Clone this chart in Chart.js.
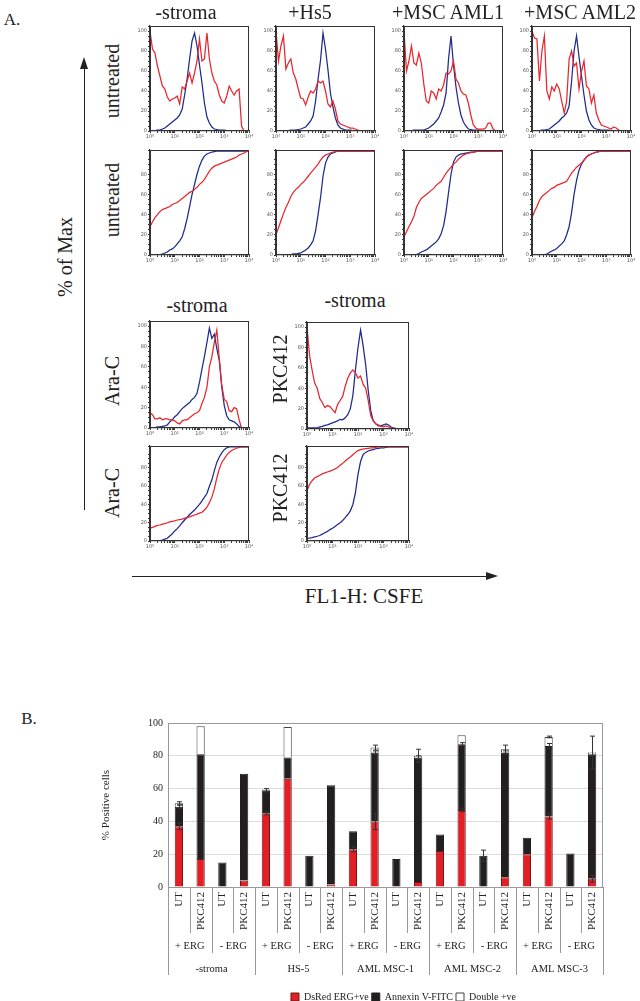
<!DOCTYPE html>
<html>
<head>
<meta charset="utf-8">
<script src="https://cdn.jsdelivr.net/npm/chart.js@4.4.1/dist/chart.umd.min.js"></script>
<style>
  html, body { margin: 0; padding: 0; background: #fff; }
  #fig { position: relative; width: 640px; height: 1001px; overflow: hidden; background: #fff; font-family: 'Liberation Serif', 'DejaVu Serif', serif; color: #222; }
  #fig canvas { position: absolute; }
  .lbl { position: absolute; white-space: nowrap; line-height: 1; transform: translate(-50%, -50%); }
  .rot { transform: translate(-50%, -50%) rotate(-90deg); }
  .ln { position: absolute; background: #222; }
  .tri { position: absolute; width: 0; height: 0; }
</style>
</head>
<body>
<div id="fig"></div>
<script>
// ---------- part A: flow histograms (x = FL1-H on a log scale, y = % of max) ----------
const LOG_X = [1, 1.26, 1.58, 2, 2.51, 3.16, 3.98, 5.01, 6.31, 7.94,
  10, 12.6, 15.8, 20, 25.1, 31.6, 39.8, 50.1, 63.1, 79.4,
  100, 126, 158, 200, 251, 316, 398, 501, 631, 794,
  1000, 1259, 1585, 1995, 2512, 3162, 3981, 5012, 6310, 7943, 10000];
const LOG_TICKS = ['10⁰', '10¹', '10²', '10³', '10⁴'];
const DECADES = [1, 10, 100, 1000, 10000];

// untreated, histograms
const stromaHistRed = [100,82,78,65,55,45,42,34,30,32,33,35,27,44,42,50,58,48,58,70,92,70,72,98,72,58,50,46,36,30,28,35,45,40,36,40,42,5,0,0,0];
const stromaHistBlue = [0,0,0.5,1,1,2,3,5,7,9,11,13,16,22,36,52,72,90,98,85,66,48,28,14,8,4,2,1.5,1,1,1,0.5,0.5,0.5,0.5,0.5,0.5,0.5,0.5,0.5,0.5];
const hs5HistRed = [100,70,85,95,62,68,72,58,52,42,33,32,26,34,40,38,42,50,48,50,40,27,24,30,22,10,7,6,5,4,3,3,2,1,0.5,0,0,0,0,0,0];
const hs5HistBlue = [0,0.5,0.5,0.5,0.5,0.5,1,1,1,1.5,2,3,4,7,10,15,30,52,71,98,82,61,38,24,13,6,3,2,1,1,1,0.5,0.5,0.5,0.5,0.5,0.5,0.5,0.5,0.5,0.5];
const aml1HistRed = [100,60,70,85,68,66,78,68,47,30,28,40,38,32,42,40,46,58,57,60,70,52,48,40,37,36,28,16,6,3,2,2,2,3,8,8,2,0,0,0,0];
const aml1HistBlue = [0,0.5,0.5,0.5,1,1,1,1,1,2,3,5,7,10,13,19,26,38,72,95,66,44,28,16,9,5,2,1.5,1,1,1,0.5,0.5,0.5,0.5,0.5,0.5,0.5,0.5,0.5,0.5];
const aml2HistRed = [100,93,92,50,80,95,40,32,44,40,47,42,30,18,30,72,80,65,68,42,60,70,45,42,28,36,18,11,6,5,4,3,2,4,3,1,0.5,0,0,0,0];
const aml2HistBlue = [0,0.5,0.5,0.5,1,1,1.5,2,4,6,8,10,13,15,18,25,50,80,95,74,55,36,20,11,6,3,2,1.5,1,1,1,1,0.5,0.5,0.5,0.5,0.5,0.5,0.5,0.5,0.5];

// untreated, cumulative
const stromaCumRed = [28,33,37,40,43,45,46,47,48,50,51,52,54,56,58,60,62,63,65,67,70,72,75,79,83,86,88,89,90,91,92,93,94,95,96,97,99,100,101,102.5,103];
const stromaCumBlue = [0,0,0,0,0.5,1,2,3,5,6,8,11,14,18,26,36,48,60,70,80,88,94,98,100,101,102,102.5,103,103,103,103,103,103,103,103,103,103,103,103,103,103];
const hs5CumRed = [20,27,34,41,47,52,58,62,65,67,70,72,75,78,81,84,87,90,94,97,99,100,101,102,102.5,103,103,103,103,103,103,103,103,103,103,103,103,103,103,103,103];
const hs5CumBlue = [0,0,0,0,0,0,0.5,1,1,1.5,2,3.5,5,7,10,14,24,40,57,78,91,97,100,101,102,103,103,103,103,103,103,103,103,103,103,103,103,103,103,103,103];
const aml1CumRed = [18,23,28,33,38,47,52,56,58,60,62,64,66,69,71,73,77,81,84,87,90,92,95,97,99,100,101,101.5,102,102.5,103,103,103,103,103,103,103,103,103,103,103];
const aml1CumBlue = [0,0,0,0,0,0.5,1.5,3,4,5,7,9,11,13,16,21,29,43,62,80,92,97,99,100,100.5,101,101.5,102,102,102.5,103,103,103,103,103,103,103,103,103,103,103];
const aml2CumRed = [37,43,48,54,58,60,62,64,66,67,69,70,71,72,73,77,81,84,87,89,91,94,97,99,100,101,102,102.5,103,103,103,103,103,103,103,103,103,103,103,103,103];
const aml2CumBlue = [0,0,0,0,0,0.5,1,2.5,4,5,6.5,9,11,14,20,28,42,60,74,84,90,94,97,99,100,101,102,102.5,103,103,103,103,103,103,103,103,103,103,103,103,103];

// Ara-C and PKC412, -stroma
const araCHistRed = [15,13,9,9,10,8,9,9,8,8,7,5,4,7,8,8,10,12,14,15,17,24,30,40,60,70,84,96,68,42,28,26,17,16,20,19,8,0,0,0,0];
const araCHistBlue = [0,0,0.5,1,1,1.5,2,3,6,8,11,13,16,19,21,23,25,28,30,34,45,58,70,84,98,88,92,78,66,40,22,12,8,7,6,4,1.5,0.5,0,0,0];
const araCCumRed = [14,15,16,17,17.5,18.5,19,20,21,21.5,22,23,23.5,24,25,25.5,26.5,27.5,28.5,29.5,30.5,31.5,34,37,42,48,57,69,79,86,90,94,97,99,100.5,101.5,102.5,103,103,103,103];
const araCCumBlue = [0,0,0,0,0.5,1,2,3,5.5,8,11,13.5,16.5,20,23,26,29,31.5,34,37,40,44,48,52,60,67,77,86,92,96.5,100,102,103,103,103,103,103,103,103,103,103];
const pkcHistRed = [100,72,58,45,40,30,26,21,23,22,19,16,24,28,32,42,50,55,58,55,50,52,44,40,28,13,8,5,4,2.5,2,3,2,1,0.3,0,0,0,0,0,0];
const pkcHistBlue = [1,1,1,1,1,2,2.5,3.5,4,5,6,7,8,9.5,9,11,14,20,33,58,80,97,82,63,38,18,8,5,3,3,4,5,4,2,1,0.5,0,0,0,0,0];
const pkcCumRed = [55,62,66,69,70.5,72,73.5,74.5,75.5,76.5,77.5,79,80.5,83,85,87.5,90,92,94.5,97,99,100,100.5,101,101.5,102,102,102.5,103,103,103,103,103,103,103,103,103,103,103,103,103];
const pkcCumBlue = [3,3.2,3.8,4.5,5.2,6,7.5,9,10.5,12.5,14,16,18,20,22.5,25.5,29,33,40,53,73,87,94.5,97,98.5,99.5,100,101,101.5,102,102,102.5,103,103,103,103,103,103,103,103,103];

// ---------- part B: stacked bars ----------
const BAR_LABELS = ['UT','PKC412','UT','PKC412','UT','PKC412','UT','PKC412','UT','PKC412',
  'UT','PKC412','UT','PKC412','UT','PKC412','UT','PKC412','UT','PKC412'];
const ERG_LABELS = ['+ ERG','- ERG','+ ERG','- ERG','+ ERG','- ERG','+ ERG','- ERG','+ ERG','- ERG'];
const STROMA_LABELS = ['-stroma','HS-5','AML MSC-1','AML MSC-2','AML MSC-3'];
const dsRed     = [37,17,0,4,45,66,0,1.5,23,40,0,3,22,47,0,6,20,43,0,5];
const annexin   = [12,64,15,65,14,13,19,60.5,11,42,17,76,10,40,19,76,10,43,20.5,76];
const doublePos = [2,17,0,0,0.5,18.5,0,0,0,3,0,1,0,5.5,0,2,0,5.5,0,1];
const dsRedErr   = [2,0,0,0,1,0,0,0,1.5,5,0,0,0,1,0,0,0,1.5,0,2];
const annexinErr = [1,0,0,0,1,0,0,0,0,1,0,1,0,1,3.5,1,0,1.5,0,0];
const doubleErr  = [1,0,0,0,0,0,0,0,0,1.5,0,4,0,0,0,2.5,0,0.5,0,10];

const RED = '#e8262d';
const BLUE = '#1e2a8c';

Chart.defaults.font.family = "'Liberation Serif', 'DejaVu Serif', serif";
Chart.defaults.color = '#222';

const fig = document.getElementById('fig');

function addText(txt, x, y, size, rotated) {
  const d = document.createElement('div');
  d.className = rotated ? 'lbl rot' : 'lbl';
  d.textContent = txt;
  d.style.left = x + 'px';
  d.style.top = y + 'px';
  d.style.fontSize = size + 'px';
  fig.appendChild(d);
}

function addBox(cls, left, top, w, h, extra) {
  const d = document.createElement('div');
  d.className = cls;
  d.style.left = left + 'px';
  d.style.top = top + 'px';
  if (w !== null) d.style.width = w + 'px';
  if (h !== null) d.style.height = h + 'px';
  Object.assign(d.style, extra || {});
  fig.appendChild(d);
}

// series start from the baseline at 10^0
function pts(ys) {
  return [{x: 1, y: 0}].concat(ys.map((y, i) => ({x: LOG_X[i], y: y})));
}

const frame = {
  id: 'frame',
  afterDraw(chart) {
    const a = chart.chartArea;
    const ctx = chart.ctx;
    ctx.save();
    ctx.strokeStyle = '#333';
    ctx.lineWidth = 1;
    ctx.strokeRect(a.left + 0.5, a.top + 0.5, a.right - a.left - 1, a.bottom - a.top - 1);
    ctx.restore();
  }
};

function makePanel(left, top, w, h, red, blue, ymax) {
  const padL = 18, padT = 4, padR = 8, padB = 12;
  const canvas = document.createElement('canvas');
  canvas.width = w + padL + padR;
  canvas.height = h + padT + padB;
  canvas.style.left = (left - padL) + 'px';
  canvas.style.top = (top - padT) + 'px';
  fig.appendChild(canvas);

  new Chart(canvas, {
    type: 'line',
    data: {
      datasets: [
        {data: pts(red), borderColor: RED},
        {data: pts(blue), borderColor: BLUE}
      ]
    },
    options: {
      responsive: false,
      animation: false,
      devicePixelRatio: 1,
      layout: {padding: {left: 0, top: padT, right: padR, bottom: 0}},
      elements: {point: {radius: 0}, line: {borderWidth: 1.25, tension: 0}},
      plugins: {legend: {display: false}, tooltip: {enabled: false}},
      scales: {
        x: {
          type: 'logarithmic', min: 1, max: 10000,
          afterBuildTicks: (s) => {
            const t = [];
            DECADES.slice(0, 4).forEach(d => { for (let k = 1; k < 10; k++) t.push({value: d * k}); });
            t.push({value: 10000});
            s.ticks = t;
          },
          grid: {drawOnChartArea: false, tickLength: 2, color: '#333'},
          border: {color: '#333', width: 1.2},
          ticks: {
            autoSkip: false, maxRotation: 0, padding: 1, color: '#555',
            font: {family: 'DejaVu Sans', size: 5},
            callback: (v) => { const i = DECADES.indexOf(v); return i >= 0 ? LOG_TICKS[i] : ''; }
          },
          afterFit: (s) => { s.height = padB; }
        },
        y: {
          min: 0, max: ymax,
          grid: {drawOnChartArea: false, tickLength: 2, color: '#333'},
          border: {color: '#333', width: 1.2},
          ticks: {
            stepSize: 5, autoSkip: false, padding: 1, color: '#555',
            font: {family: 'DejaVu Sans', size: 5},
            callback: (v) => (v % 20 === 0 ? String(v) : '')
          },
          afterFit: (s) => { s.width = padL; }
        }
      }
    },
    plugins: [frame]
  });
}

// row 1 / row 2: untreated
makePanel(150, 26, 99, 105, stromaHistRed, stromaHistBlue, 105);
makePanel(276, 26, 99, 105, hs5HistRed, hs5HistBlue, 105);
makePanel(404, 26, 99, 105, aml1HistRed, aml1HistBlue, 105);
makePanel(532, 26, 99, 105, aml2HistRed, aml2HistBlue, 105);
makePanel(150, 150, 99, 105, stromaCumRed, stromaCumBlue, 104);
makePanel(276, 150, 99, 105, hs5CumRed, hs5CumBlue, 104);
makePanel(404, 150, 99, 105, aml1CumRed, aml1CumBlue, 104);
makePanel(532, 150, 99, 105, aml2CumRed, aml2CumBlue, 104);
// rows 3 / 4: Ara-C and PKC412
makePanel(150, 321, 99, 107, araCHistRed, araCHistBlue, 105);
makePanel(307, 322, 102, 107, pkcHistRed, pkcHistBlue, 105);
makePanel(150, 446, 99, 95, araCCumRed, araCCumBlue, 104);
makePanel(307, 446, 102, 95, pkcCumRed, pkcCumBlue, 104);

// labels of part A
addText('A.', 12, 19, 17);
addText('-stroma', 186, 12, 20);
addText('+Hs5', 310, 12, 20);
addText('+MSC AML1', 448, 12, 20);
addText('+MSC AML2', 580, 12, 20);
addText('untreated', 112, 81, 20, true);
addText('untreated', 112, 200, 20, true);
addText('% of Max', 65, 257, 20, true);
addText('-stroma', 197, 305, 20);
addText('-stroma', 355, 300, 20);
addText('Ara-C', 112, 381, 20, true);
addText('Ara-C', 112, 493, 20, true);
addText('PKC412', 280, 369, 20, true);
addText('PKC412', 280, 488, 20, true);
addText('FL1-H: CSFE', 364, 596, 21);
addText('B.', 29, 718, 17);

// axis arrows
addBox('ln', 83.5, 66, 1.2, 444);
addBox('tri', 79.5, 57, null, null, {borderLeft: '4.5px solid transparent', borderRight: '4.5px solid transparent', borderBottom: '12px solid #222'});
addBox('ln', 132, 575.5, 355, 1.2);
addBox('tri', 486, 571.5, null, null, {borderTop: '4.5px solid transparent', borderBottom: '4.5px solid transparent', borderLeft: '12px solid #222'});

// ---------- bar chart ----------
const errorBars = {
  id: 'errorBars',
  afterDatasetsDraw(chart) {
    const x = chart.scales.x, y = chart.scales.y, ctx = chart.ctx;
    const parts = [dsRed, annexin, doublePos];
    const errs = [dsRedErr, annexinErr, doubleErr];
    ctx.save();
    ctx.strokeStyle = '#333';
    ctx.lineWidth = 1;
    for (let i = 0; i < dsRed.length; i++) {
      let top = 0;
      for (let k = 0; k < 3; k++) {
        top += parts[k][i];
        const e = errs[k][i];
        if (!e) continue;
        const px = Math.round(x.getPixelForValue(i)) + 0.5;
        const y1 = y.getPixelForValue(top + e);
        const y2 = y.getPixelForValue(top - e);
        ctx.beginPath();
        ctx.moveTo(px, y1); ctx.lineTo(px, y2);
        ctx.moveTo(px - 2.5, y1); ctx.lineTo(px + 2.5, y1);
        ctx.moveTo(px - 2.5, y2); ctx.lineTo(px + 2.5, y2);
        ctx.stroke();
      }
    }
    ctx.restore();
  }
};

const separators = {
  id: 'separators',
  afterDraw(chart) {
    const {ctx, chartArea: a, scales} = chart;
    const n = BAR_LABELS.length;
    const step = (scales.x.right - scales.x.left) / n;
    ctx.save();
    ctx.strokeStyle = '#999';
    ctx.lineWidth = 1;
    ctx.strokeRect(a.left + 0.5, a.top + 0.5, a.right - a.left - 1, a.bottom - a.top);
    for (let i = 0; i <= n; i++) {
      const px = Math.round(scales.x.left + i * step) + 0.5;
      let end = scales.x.bottom;
      if (i % 4 === 0) end = scales.x2.bottom + 22;
      else if (i % 2 === 0) end = scales.x2.bottom;
      ctx.beginPath();
      ctx.moveTo(px, a.bottom);
      ctx.lineTo(px, end);
      ctx.stroke();
    }
    ctx.restore();
  }
};

const legendShift = {
  id: 'legendShift',
  afterLayout(chart) {
    chart.legend.left += 18;
    chart.legend.right += 18;
  }
};

const barCanvas = document.createElement('canvas');
barCanvas.width = 640;
barCanvas.height = 312;
barCanvas.style.left = '0px';
barCanvas.style.top = '700px';
fig.appendChild(barCanvas);

new Chart(barCanvas, {
  type: 'bar',
  data: {
    labels: BAR_LABELS,
    datasets: [
      {label: 'DsRed ERG+ve', data: dsRed, backgroundColor: '#e31e24', borderColor: '#6b1a1c', borderWidth: 1},
      {label: 'Annexin V-FITC', data: annexin, backgroundColor: '#231f20', borderColor: '#231f20', borderWidth: 1},
      {label: 'Double +ve', data: doublePos, backgroundColor: '#ffffff', borderColor: '#444', borderWidth: 1}
    ]
  },
  options: {
    responsive: false,
    animation: false,
    devicePixelRatio: 1,
    layout: {padding: {left: 100, right: 37, top: 23, bottom: 0}},
    datasets: {bar: {barPercentage: 0.38, categoryPercentage: 1}},
    plugins: {
      tooltip: {enabled: false},
      legend: {
        position: 'bottom', fullSize: false,
        labels: {boxWidth: 8, boxHeight: 8, padding: 3, color: '#222', font: {size: 10}}
      }
    },
    scales: {
      x: {
        stacked: true, weight: 0,
        grid: {display: false, drawTicks: false}, border: {display: false},
        ticks: {autoSkip: false, minRotation: 90, maxRotation: 90, padding: 5, color: '#222', font: {size: 11}},
        afterFit: (s) => { s.height = 46; }
      },
      x2: {
        type: 'category', position: 'bottom', labels: ERG_LABELS, offset: true, weight: 1,
        grid: {display: false, drawTicks: false}, border: {display: false},
        ticks: {autoSkip: false, maxRotation: 0, padding: 7, color: '#222', font: {size: 10.5}},
        afterFit: (s) => { s.height = 20; }
      },
      x3: {
        type: 'category', position: 'bottom', labels: STROMA_LABELS, offset: true, weight: 2,
        grid: {display: false, drawTicks: false}, border: {display: false},
        ticks: {autoSkip: false, maxRotation: 0, padding: 10, color: '#222', font: {size: 10.5}},
        afterFit: (s) => { s.height = 36; }
      },
      y: {
        stacked: true, min: 0, max: 100,
        grid: {color: '#dcdcdc', drawTicks: false},
        border: {color: '#999'},
        ticks: {stepSize: 20, padding: 5, color: '#222', font: {size: 10}},
        title: {display: true, text: '% Positive cells', color: '#222', font: {size: 11}, padding: {top: 0, bottom: 6}},
        afterFit: (s) => { s.width = 68; }
      }
    }
  },
  plugins: [errorBars, separators, legendShift]
});
</script>
</body>
</html>
